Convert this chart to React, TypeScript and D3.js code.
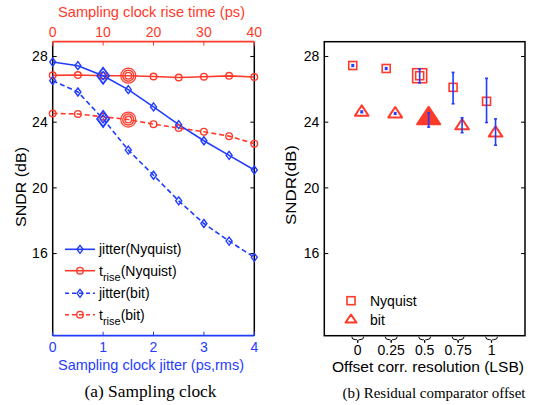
import React from "react";
import * as d3 from "d3";

const RED = "#ff3a2a";
const BLUE = "#1f3cff";

const jitterX = [0, 0.5, 1, 1.5, 2, 2.5, 3, 3.5, 4];
const riseX = [0, 5, 10, 15, 20, 25, 30, 35, 40];
const jitterNyq = [27.66, 27.44, 26.83, 25.98, 24.93, 23.85, 22.87, 21.98, 21.09];
const riseNyq = [26.85, 26.87, 26.83, 26.83, 26.78, 26.72, 26.77, 26.82, 26.75];
const jitterBit = [26.53, 25.84, 24.2, 22.3, 20.77, 19.21, 17.83, 16.76, 15.77];
const riseBit = [24.53, 24.5, 24.33, 24.16, 23.88, 23.64, 23.42, 23.15, 22.69];

const offsetX = [0, 0.25, 0.5, 0.75, 1];
const offNyq = [27.45, 27.27, 26.83, 26.12, 25.27];
const offNyqLo = [27.4, 27.22, 26.39, 25.12, 23.98];
const offNyqHi = [27.5, 27.32, 27.24, 27.03, 26.67];
const offBit = [24.63, 24.53, 24.27, 23.8, 23.36];
const offBitLo = [24.58, 24.48, 23.7, 23.36, 22.6];
const offBitHi = [24.68, 24.58, 24.56, 24.27, 24.2];

const yTicks = [16, 20, 24, 28];
const jitterTicks = [0, 1, 2, 3, 4];
const riseTicks = [0, 10, 20, 30, 40];
const offsetTicks = [0, 0.25, 0.5, 0.75, 1];
const offsetTickLabels = ["0", "0.25", "0.5", "0.75", "1"];

const FONT = "Liberation Sans, Arial, sans-serif";
const SERIF = "Liberation Serif, Times New Roman, serif";

const diamond = (cx: number, cy: number, r: number) =>
  `M${cx},${cy - r}L${cx + r * 0.75},${cy}L${cx},${cy + r}L${cx - r * 0.75},${cy}Z`;

export default function App() {
  const top = 41.7;
  const bottom = 335.7;
  const y = d3.scaleLinear().domain([11, 28.9]).range([bottom, top]);
  const L = { x0: 52.7, x1: 254.3 };
  const R = { x0: 324.3, x1: 525 };
  const xj = d3.scaleLinear().domain([0, 4]).range([L.x0, L.x1]);
  const xr = d3.scaleLinear().domain([0, 40]).range([L.x0, L.x1]);
  const xo = d3.scaleLinear().domain([-0.25, 1.25]).range([R.x0, R.x1]);

  const lineJ = d3
    .line<number>()
    .x((_, i) => xj(jitterX[i]))
    .y((d) => y(d));
  const lineR = d3
    .line<number>()
    .x((_, i) => xr(riseX[i]))
    .y((d) => y(d));

  const legendA = [
    { label: "jitter", sub: "", suffix: "(Nyquist)", color: BLUE, dash: "", marker: "d", yy: 249.3 },
    { label: "t", sub: "rise", suffix: "(Nyquist)", color: RED, dash: "", marker: "o", yy: 270.7 },
    { label: "jitter", sub: "", suffix: "(bit)", color: BLUE, dash: "4,3", marker: "d", yy: 293.3 },
    { label: "t", sub: "rise", suffix: "(bit)", color: RED, dash: "4,3", marker: "o", yy: 314.7 },
  ];

  const brace = (cx: number) => {
    const w = 6;
    const b = bottom + 1;
    return `M${cx - w},${b} Q${cx - w},${b + 3} ${cx - 2},${b + 3} L${cx - 1},${b + 3} Q${cx},${b + 3} ${cx},${b + 6} Q${cx},${b + 3} ${cx + 1},${b + 3} L${cx + 2},${b + 3} Q${cx + w},${b + 3} ${cx + w},${b}`;
  };

  return (
    <svg width={535} height={405} style={{ position: "absolute", left: 0, top: 0, background: "#fff" }} fontFamily={FONT}>
      {/* ===== Left panel ===== */}
      <g>
        <line x1={L.x0} x2={L.x0} y1={top} y2={bottom} stroke="#000" strokeWidth={1.5} />
        <line x1={L.x1} x2={L.x1} y1={top} y2={bottom} stroke="#000" strokeWidth={1.5} />
        <line x1={L.x0} x2={L.x1} y1={top} y2={top} stroke={RED} strokeWidth={1.8} />
        <line x1={L.x0} x2={L.x1} y1={bottom} y2={bottom} stroke={BLUE} strokeWidth={1.8} />
        {yTicks.map((t) => (
          <g key={t}>
            <line x1={L.x0} x2={L.x0 + 4} y1={y(t)} y2={y(t)} stroke="#000" />
            <line x1={L.x1} x2={L.x1 - 4} y1={y(t)} y2={y(t)} stroke="#000" />
            <text x={L.x0 - 5} y={y(t)} dy="0.35em" textAnchor="end" fontSize={14}>
              {t}
            </text>
          </g>
        ))}
        {riseTicks.map((t) => (
          <g key={t}>
            <line x1={xr(t)} x2={xr(t)} y1={top} y2={top + 4} stroke={RED} />
            <text x={xr(t)} y={37} textAnchor="middle" fontSize={14} fill={RED}>
              {t}
            </text>
          </g>
        ))}
        {jitterTicks.map((t) => (
          <g key={t}>
            <line x1={xj(t)} x2={xj(t)} y1={bottom} y2={bottom - 4} stroke={BLUE} />
            <text x={xj(t)} y={352} textAnchor="middle" fontSize={14} fill={BLUE}>
              {t}
            </text>
          </g>
        ))}
        <text x={151.5} y={17} textAnchor="middle" fontSize={14.5} fill={RED} textLength={187} lengthAdjust="spacingAndGlyphs">
          Sampling clock rise time (ps)
        </text>
        <text x={151} y={370} textAnchor="middle" fontSize={14.5} fill={BLUE} textLength={186} lengthAdjust="spacingAndGlyphs">
          Sampling clock jitter (ps,rms)
        </text>
        <text transform={`translate(26,187) rotate(-90)`} textAnchor="middle" fontSize={14} textLength={80} lengthAdjust="spacingAndGlyphs">
          SNDR (dB)
        </text>
        <text x={150.5} y={397} textAnchor="middle" fontSize={17} fontFamily={SERIF} textLength={132} lengthAdjust="spacingAndGlyphs">
          (a) Sampling clock
        </text>

        {/* lines */}
        <path d={lineR(riseNyq) || ""} fill="none" stroke={RED} strokeWidth={1.6} />
        <path d={lineR(riseBit) || ""} fill="none" stroke={RED} strokeWidth={1.6} strokeDasharray="5,3" />
        <path d={lineJ(jitterNyq) || ""} fill="none" stroke={BLUE} strokeWidth={1.6} />
        <path d={lineJ(jitterBit) || ""} fill="none" stroke={BLUE} strokeWidth={1.6} strokeDasharray="5,3" />
        {[riseNyq, riseBit].map((arr, k) =>
          arr.map((v, i) => (
            <g key={`r${k}-${i}`}>
              <circle cx={xr(riseX[i])} cy={y(v)} r={3.3} fill="none" stroke={RED} strokeWidth={1.4} />
              {riseX[i] === 15 && (
                <>
                  <circle cx={xr(riseX[i])} cy={y(v)} r={5.5} fill="none" stroke={RED} strokeWidth={1.4} />
                  <circle cx={xr(riseX[i])} cy={y(v)} r={7.5} fill="none" stroke={RED} strokeWidth={1.2} />
                </>
              )}
            </g>
          ))
        )}
        {[jitterNyq, jitterBit].map((arr, k) =>
          arr.map((v, i) => (
            <g key={`j${k}-${i}`}>
              <path d={diamond(xj(jitterX[i]), y(v), 4)} fill="none" stroke={BLUE} strokeWidth={1.4} />
              {jitterX[i] === 1 && (
                <path d={diamond(xj(jitterX[i]), y(v), 8)} fill="none" stroke={BLUE} strokeWidth={1.8} />
              )}
            </g>
          ))
        )}

        {/* legend */}
        {legendA.map((l) => (
          <g key={l.label + l.suffix}>
            <line x1={65} x2={95} y1={l.yy} y2={l.yy} stroke={l.color} strokeWidth={1.6} strokeDasharray={l.dash} />
            {l.marker === "d" ? (
              <path d={diamond(80, l.yy, 4)} fill="none" stroke={l.color} strokeWidth={1.4} />
            ) : (
              <circle cx={80} cy={l.yy} r={3.3} fill="none" stroke={l.color} strokeWidth={1.4} />
            )}
            <text x={99} y={l.yy} dy="0.35em" fontSize={14}>
              {l.label}
              {l.sub && (
                <tspan fontSize={11} dy="5">
                  {l.sub}
                </tspan>
              )}
              <tspan dy={l.sub ? "-5" : "0"}>{l.suffix}</tspan>
            </text>
          </g>
        ))}
      </g>

      {/* ===== Right panel ===== */}
      <g>
        <rect x={R.x0} y={top} width={R.x1 - R.x0} height={bottom - top} fill="none" stroke="#000" strokeWidth={1.5} />
        {yTicks.map((t) => (
          <g key={t}>
            <line x1={R.x0} x2={R.x0 + 4} y1={y(t)} y2={y(t)} stroke="#000" />
            <line x1={R.x1} x2={R.x1 - 4} y1={y(t)} y2={y(t)} stroke="#000" />
            <text x={R.x0 - 5} y={y(t)} dy="0.35em" textAnchor="end" fontSize={14}>
              {t}
            </text>
          </g>
        ))}
        {offsetTicks.map((t, i) => (
          <g key={t}>
            <path d={brace(xo(t))} fill="none" stroke="#000" strokeWidth={1} />
            <text x={xo(t)} y={355} textAnchor="middle" fontSize={14}>
              {offsetTickLabels[i]}
            </text>
          </g>
        ))}
        <text x={428} y={372} textAnchor="middle" fontSize={14.5} textLength={192} lengthAdjust="spacingAndGlyphs">
          Offset corr. resolution (LSB)
        </text>
        <text transform={`translate(296,185) rotate(-90)`} textAnchor="middle" fontSize={14} textLength={80} lengthAdjust="spacingAndGlyphs">
          SNDR(dB)
        </text>
        <text x={434} y={398} textAnchor="middle" fontSize={15.3} fontFamily={SERIF} textLength={183} lengthAdjust="spacingAndGlyphs">
          (b) Residual comparator offset
        </text>

        {offsetX.map((t, i) => {
          const cx = xo(t) - 5;
          const cy = y(offNyq[i]);
          const big = t === 0.5;
          return (
            <g key={`n${i}`}>
              <rect x={cx - 4} y={cy - 4} width={8} height={8} fill="none" stroke={RED} strokeWidth={1.6} />
              {big && <rect x={cx - 7} y={cy - 7} width={14} height={14} fill="none" stroke={RED} strokeWidth={1.6} />}
            </g>
          );
        })}
        {offsetX.map((t, i) => {
          const cx = xo(t) + 4;
          const cy = y(offBit[i]);
          const big = t === 0.5;
          const s = big ? 11 : 6.5;
          return (
            <path
              key={`b${i}`}
              d={`M${cx},${cy - s}L${cx + s * 1.05},${cy + s * 0.6}L${cx - s * 1.05},${cy + s * 0.6}Z`}
              fill={big ? RED : "#fff"}
              stroke={RED}
              strokeWidth={2}
              strokeLinejoin="round"
            />
          );
        })}
        {offsetX.map((t, i) => {
          const cx = xo(t) - 5;
          return (
            <g key={`en${i}`} stroke={BLUE} strokeWidth={1.6}>
              <line x1={cx} x2={cx} y1={y(offNyqLo[i])} y2={y(offNyqHi[i])} />
              <line x1={cx - 1.5} x2={cx + 1.5} y1={y(offNyqLo[i])} y2={y(offNyqLo[i])} />
              <line x1={cx - 1.5} x2={cx + 1.5} y1={y(offNyqHi[i])} y2={y(offNyqHi[i])} />
            </g>
          );
        })}
        {offsetX.map((t, i) => {
          const cx = xo(t) + 4;
          return (
            <g key={`eb${i}`} stroke={BLUE} strokeWidth={1.6}>
              <line x1={cx} x2={cx} y1={y(offBitLo[i])} y2={y(offBitHi[i])} />
              <line x1={cx - 1.5} x2={cx + 1.5} y1={y(offBitLo[i])} y2={y(offBitLo[i])} />
              <line x1={cx - 1.5} x2={cx + 1.5} y1={y(offBitHi[i])} y2={y(offBitHi[i])} />
            </g>
          );
        })}

        {/* legend */}
        <rect x={347} y={296.7} width={8} height={8} fill="none" stroke={RED} strokeWidth={1.6} />
        <text x={370} y={300.7} dy="0.35em" fontSize={14}>
          Nyquist
        </text>
        <path d={`M351,314.5L356.5,322.5L345.5,322.5Z`} fill="#fff" stroke={RED} strokeWidth={2} strokeLinejoin="round" />
        <text x={370} y={320} dy="0.35em" fontSize={14}>
          bit
        </text>
      </g>
    </svg>
  );
}
